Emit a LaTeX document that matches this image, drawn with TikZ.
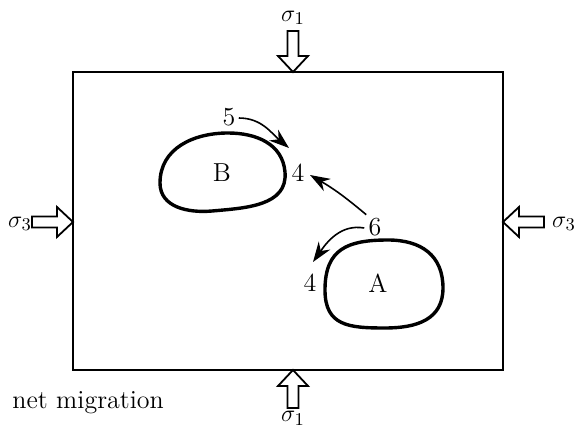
\documentclass[tikz,border=0pt]{standalone}
\usetikzlibrary{arrows.meta}
\begin{document}
\begin{tikzpicture}[x=0.5pt,y=-0.5pt,
  lbl/.style={inner sep=0pt,font=\fontsize{13}{15}\selectfont},
  blob/.style={line width=1.7pt,line join=round},
  mig/.style={line width=0.8pt,-{Stealth[length=10pt,width=7pt]}},
  frame/.style={line width=0.9pt},
  pics/harrow/.style={code={
    \draw[line width=0.9pt,fill=white,line join=miter]
      (0,0) -- (-16,15) -- (-16,5.5) -- (-#1,5.5) -- (-#1,-5.5) -- (-16,-5.5) -- (-16,-15) -- cycle;}},
  pics/harrow/.default=41]
\useasboundingbox (0,0) rectangle (575,428);
% frame
\draw[frame] (73,72) rectangle (503,370);
% compressive stress arrows
\pic[rotate=-90] at (293,72) {harrow};
\pic[rotate=90] at (293,370) {harrow=38};
\pic at (73,222) {harrow};
\pic[rotate=180] at (503,222) {harrow};
\node[lbl] (s1t) at (293,18) {$\sigma_1$};
\node[lbl,anchor=north] (s1b) at (293,411) {$\sigma_1$};
\node[lbl] (s3l) at (20,224) {$\sigma_3$};
\node[lbl] (s3r) at (564,224) {$\sigma_3$};
% blobs
\draw[blob] (228,133) to[out=0,in=95,looseness=1.05] (285,172)
  to[out=-85,in=5,looseness=1.05] (212,211)
  to[out=185,in=-90,looseness=1.05] (160,183)
  to[out=90,in=180,looseness=1.05] (228,133) -- cycle;
\draw[blob] (388,240) to[out=0,in=90,looseness=1.15] (443,288)
  to[out=-90,in=0,looseness=1.15] (385,328)
  to[out=180,in=-90,looseness=1.3] (325,290)
  to[out=90,in=180,looseness=1.3] (388,240) -- cycle;
\node[lbl] (B) at (222,173) {B};
\node[lbl] (A) at (378,283) {A};
% migration labels
\node[lbl] (n5) at (229,117) {5};
\node[lbl] (n4b) at (298,173) {4};
\node[lbl] (n6) at (375,227) {6};
\node[lbl] (n4a) at (310,283) {4};
\coordinate (e5) at (289,148);
\coordinate (e6a) at (310,175);
\coordinate (e6b) at (313,262);
\draw[mig] (n5.east) ++(3,1) to[out=0,in=140] (e5);
\draw[mig] (n6.north west) ++(-2,-3) to[out=140,in=-30] (e6a);
\draw[mig] (n6.west) ++(-4,1) to[out=170,in=55] (e6b);
% caption
\node[lbl,anchor=west] (cap) at (12,403) {net migration};
\end{tikzpicture}
\end{document}
